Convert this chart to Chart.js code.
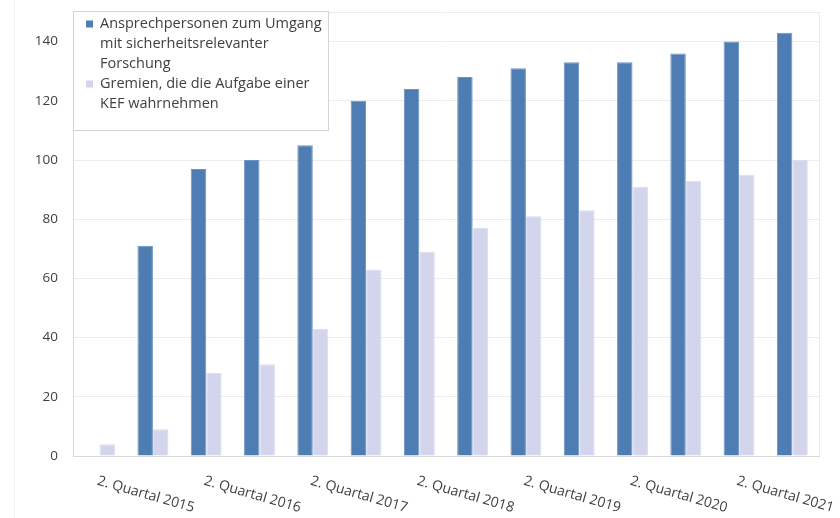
<!DOCTYPE html>
<html>
<head>
<meta charset="utf-8">
<script src="https://cdn.jsdelivr.net/npm/chart.js@4/dist/chart.umd.min.js"></script>
<style>
  html, body { margin: 0; padding: 0; background: #ffffff; }
  #wrap { width: 840px; height: 518px; position: relative; }
</style>
</head>
<body>
<div id="wrap"><canvas id="chart" width="840" height="518"></canvas></div>
<script>
// Reporting dates (every half year, labelled every second one)
const categories = [
  "2. Quartal 2015", "4. Quartal 2015",
  "2. Quartal 2016", "4. Quartal 2016",
  "2. Quartal 2017", "4. Quartal 2017",
  "2. Quartal 2018", "4. Quartal 2018",
  "2. Quartal 2019", "4. Quartal 2019",
  "2. Quartal 2020", "4. Quartal 2020",
  "2. Quartal 2021", "4. Quartal 2021"
];
const labelledIndices = [0, 2, 4, 6, 8, 10, 12];

// Series values
const ansprechpersonen = [null, 71, 97, 100, 105, 120, 124, 128, 131, 133, 133, 136, 140, 143];
const gremien = [4, 9, 28, 31, 43, 63, 69, 77, 81, 83, 91, 93, 95, 100];

// Legend texts, broken into lines
const seriesNameLines = [
  ["Ansprechpersonen zum Umgang", "mit sicherheitsrelevanter", "Forschung"],
  ["Gremien, die die Aufgabe einer", "KEF wahrnehmen"]
];

// Value axis
const yMax = 150;
const yStep = 20;

const FONT = '"Open Sans", "Liberation Sans", sans-serif';
const TEXT = '#404040';
const COLORS = ['#4e7db3', '#d3d5ec'];

// Rotated category labels below the axis
const xLabelPlugin = {
  id: 'xLabels',
  afterDraw(chart) {
    const ctx = chart.ctx;
    const x = chart.scales.x;
    const bottom = chart.chartArea.bottom;
    ctx.save();
    ctx.font = '14px ' + FONT;
    ctx.fillStyle = TEXT;
    ctx.textAlign = 'left';
    ctx.textBaseline = 'top';
    labelledIndices.forEach(i => {
      const px = x.getPixelForValue(i);
      ctx.save();
      ctx.translate(px, bottom + 18);
      ctx.rotate(16 * Math.PI / 180);
      ctx.fillText(categories[i], 0, 0);
      ctx.restore();
    });
    ctx.restore();
  }
};

// Plot frame and outer edge line
const framePlugin = {
  id: 'frame',
  beforeDatasetsDraw(chart) {
    const { ctx, chartArea: a } = chart;
    ctx.save();
    ctx.strokeStyle = '#ececec';
    ctx.lineWidth = 1;
    ctx.beginPath();
    ctx.moveTo(Math.round(a.right) + 0.5, a.top);
    ctx.lineTo(Math.round(a.right) + 0.5, a.bottom);
    ctx.stroke();
    ctx.strokeStyle = '#f2f2f2';
    ctx.beginPath();
    ctx.moveTo(14.5, 0);
    ctx.lineTo(14.5, chart.height);
    ctx.stroke();
    ctx.restore();
  }
};

// Boxed legend with wrapped series names
const legendBoxPlugin = {
  id: 'legendBox',
  afterDraw(chart) {
    const ctx = chart.ctx;
    const left = chart.chartArea.left;
    const top = 11;
    const w = 255, h = 119;
    ctx.save();
    ctx.fillStyle = '#ffffff';
    ctx.fillRect(left, top, w, h);
    ctx.strokeStyle = '#d4d4d4';
    ctx.lineWidth = 1;
    ctx.strokeRect(Math.round(left) + 0.5, top + 0.5, w, h);
    ctx.font = '14.5px ' + FONT;
    ctx.textAlign = 'left';
    ctx.textBaseline = 'middle';
    let y = top + 12.5;
    const lineH = 20;
    seriesNameLines.forEach((lines, si) => {
      ctx.fillStyle = COLORS[si];
      ctx.fillRect(left + 13, y - 3, 7, 7);
      ctx.fillStyle = TEXT;
      lines.forEach(line => {
        ctx.fillText(line, left + 27, y);
        y += lineH;
      });
    });
    ctx.restore();
  }
};

new Chart(document.getElementById('chart'), {
  type: 'bar',
  data: {
    labels: categories,
    datasets: [
      {
        label: seriesNameLines[0].join(' '),
        data: ansprechpersonen,
        backgroundColor: COLORS[0],
        borderColor: '#6c93c4',
        borderWidth: 1,
        categoryPercentage: 0.58,
        barPercentage: 1.0
      },
      {
        label: seriesNameLines[1].join(' '),
        data: gremien,
        backgroundColor: COLORS[1],
        borderColor: '#dcdef0',
        borderWidth: 1,
        categoryPercentage: 0.58,
        barPercentage: 1.0
      }
    ]
  },
  options: {
    responsive: false,
    animation: false,
    devicePixelRatio: 1,
    layout: { padding: { top: 12, right: 21, left: 0, bottom: 0 } },
    plugins: {
      legend: { display: false },
      tooltip: { enabled: false }
    },
    scales: {
      x: {
        grid: { display: false, drawTicks: false },
        border: { display: true, color: '#d9d9d9' },
        ticks: { display: false },
        afterFit(scale) { scale.height = 62; }
      },
      y: {
        min: 0,
        max: yMax,
        grid: { color: '#ececec', drawTicks: false },
        border: { display: true, color: '#d9d9d9' },
        ticks: {
          stepSize: yStep,
          padding: 15,
          color: TEXT,
          font: { family: FONT, size: 13.5 },
          callback: v => (v % yStep === 0 ? v : '')
        },
        afterFit(scale) {
          scale.width = 73;
          scale.paddingTop = 0;
          scale.paddingBottom = 0;
        }
      }
    }
  },
  plugins: [framePlugin, xLabelPlugin, legendBoxPlugin]
});
</script>
</body>
</html>
